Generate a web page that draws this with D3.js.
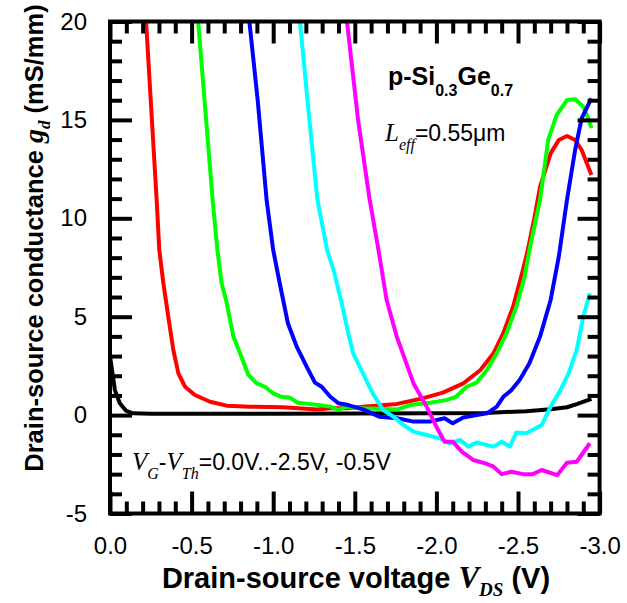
<!DOCTYPE html>
<html>
<head>
<meta charset="utf-8">
<script src="https://cdn.jsdelivr.net/npm/d3@7"></script>
<style>
  html, body { margin: 0; padding: 0; background: #fff; }
  svg { display: block; }
</style>
</head>
<body>
<svg id="chart" width="627" height="603"></svg>
<script>
// ---- data (V_DS in volts, g_d in mS/mm) ----
const seriesNames = ["0.0V", "-0.5V", "-1.0V", "-1.5V", "-2.0V", "-2.5V"];
const seriesColors = ["#000000", "#ff0000", "#00ff00", "#0000ff", "#00ffff", "#ff00ff"];

const black = [[0,3.0],[-0.03,1.27],[-0.06,0.6],[-0.10,0.21],[-0.14,0.09],[-0.25,0.07],[-0.5,0.07],[-1.0,0.07],[-1.5,0.08],[-2.0,0.09],[-2.3,0.11],[-2.55,0.2],[-2.7,0.3],[-2.8,0.4],[-2.86,0.56],[-2.95,0.82]];
const red = [[-0.221,20],[-0.286,10.93],[-0.302,8.39],[-0.327,6.7],[-0.357,5.01],[-0.388,3.31],[-0.419,2.12],[-0.46,1.44],[-0.52,1.02],[-0.613,0.68],[-0.715,0.48],[-0.858,0.43],[-1.06,0.40],[-1.27,0.29],[-1.35,0.35],[-1.45,0.35],[-1.55,0.43],[-1.76,0.57],[-1.92,0.86],[-2.04,1.14],[-2.165,1.61],[-2.27,2.29],[-2.35,3.14],[-2.41,4.16],[-2.47,5.51],[-2.53,7.37],[-2.56,8.39],[-2.6,10.0],[-2.635,11.6],[-2.70,13.3],[-2.75,13.98],[-2.80,14.18],[-2.85,13.98],[-2.89,13.47],[-2.95,12.2]];
const green = [[-0.54,20],[-0.629,10.93],[-0.658,8.39],[-0.684,6.7],[-0.711,5.85],[-0.756,3.99],[-0.797,3.14],[-0.848,2.04],[-0.899,1.61],[-0.95,1.44],[-1.0,1.10],[-1.05,0.93],[-1.10,0.90],[-1.15,0.63],[-1.215,0.57],[-1.276,0.51],[-1.35,0.43],[-1.40,0.26],[-1.45,0.43],[-1.55,0.35],[-1.76,0.29],[-1.84,0.51],[-1.96,0.63],[-2.06,0.76],[-2.12,0.93],[-2.185,1.44],[-2.246,1.65],[-2.31,2.29],[-2.37,3.14],[-2.43,4.16],[-2.49,5.51],[-2.54,7.02],[-2.57,8.39],[-2.635,10.93],[-2.685,13.98],[-2.737,15.25],[-2.80,16.01],[-2.85,16.05],[-2.90,15.67],[-2.93,15.08],[-2.95,14.58]];
const blue = [[-0.854,20],[-0.905,16],[-0.96,10.9],[-1.0,8.39],[-1.04,6.7],[-1.09,4.67],[-1.144,3.48],[-1.205,2.46],[-1.256,1.65],[-1.297,1.44],[-1.35,0.93],[-1.40,0.60],[-1.46,0.51],[-1.55,0.29],[-1.65,-0.08],[-1.76,-0.16],[-1.86,-0.33],[-1.96,-0.33],[-2.05,-0.16],[-2.10,-0.42],[-2.165,-0.12],[-2.246,0.0],[-2.31,0.09],[-2.37,0.43],[-2.41,0.93],[-2.46,1.27],[-2.51,1.78],[-2.57,2.63],[-2.635,3.99],[-2.70,5.85],[-2.75,8.05],[-2.80,10.93],[-2.85,13.47],[-2.89,15.08],[-2.95,16.1]];
const cyan = [[-1.164,20],[-1.21,16],[-1.27,11],[-1.33,8.39],[-1.37,7.37],[-1.42,5.68],[-1.46,4.16],[-1.49,3.14],[-1.55,2.12],[-1.61,1.10],[-1.674,0.26],[-1.736,-0.08],[-1.80,-0.51],[-1.86,-0.84],[-1.94,-1.01],[-2.02,-1.18],[-2.08,-1.43],[-2.145,-1.26],[-2.195,-1.6],[-2.246,-1.39],[-2.35,-1.6],[-2.40,-1.35],[-2.45,-1.6],[-2.49,-0.89],[-2.55,-0.92],[-2.645,-0.51],[-2.70,0.43],[-2.76,1.27],[-2.81,2.12],[-2.86,3.31],[-2.90,5.0],[-2.94,6.19]];
const magenta = [[-1.452,20],[-1.52,15],[-1.59,11],[-1.645,8.39],[-1.695,5.85],[-1.757,3.99],[-1.86,1.61],[-1.94,0.43],[-2.0,-0.59],[-2.05,-1.35],[-2.10,-1.35],[-2.155,-1.86],[-2.225,-2.28],[-2.30,-2.45],[-2.35,-2.62],[-2.40,-3.0],[-2.46,-2.88],[-2.53,-3.0],[-2.59,-3.0],[-2.645,-2.79],[-2.74,-3.05],[-2.80,-2.42],[-2.86,-2.37],[-2.94,-1.43]];

const xTicks = [0, -0.5, -1.0, -1.5, -2.0, -2.5, -3.0];
const xTickLabels = ["0.0", "-0.5", "-1.0", "-1.5", "-2.0", "-2.5", "-3.0"];
const yTicks = [-5, 0, 5, 10, 15, 20];
const yTickLabels = ["-5", "0", "5", "10", "15", "20"];

// ---- layout ----
const L = 110, R = 599.6, T = 21.5, B = 513.5;
const svg = d3.select("#chart");
const x = d3.scaleLinear().domain([0, -3]).range([L, R]);
const y = d3.scaleLinear().domain([20, -5]).range([T, B]);

const sans = "'Liberation Sans', Arial, sans-serif";
const serif = "'Liberation Serif', 'Times New Roman', serif";

// clip
svg.append("defs").append("clipPath").attr("id", "clip")
  .append("rect").attr("x", L).attr("y", T).attr("width", R - L).attr("height", B - T);

// curves
const allSeries = [black, red, green, blue, cyan, magenta];
const line = d3.line().x(d => x(d[0])).y(d => y(d[1]));
const g = svg.append("g").attr("clip-path", "url(#clip)");
allSeries.forEach((s, i) => {
  g.append("path").datum(s)
    .attr("fill", "none").attr("stroke", seriesColors[i])
    .attr("stroke-width", 4).attr("stroke-linejoin", "round")
    .attr("d", line);
});

// axes with inward ticks
const minorX = d3.range(0, 31).map(i => -i / 10).filter(v => !xTicks.some(t => Math.abs(t - v) < 1e-9));
const minorY = d3.range(-5, 21).filter(v => yTicks.indexOf(v) < 0);

function styleAxis(sel) {
  sel.select(".domain").remove();
  sel.selectAll(".tick line").attr("stroke", "#000").attr("stroke-width", 4);
  sel.selectAll(".tick text").attr("font-family", sans).attr("font-size", 24).attr("fill", "#000");
}

svg.append("g").attr("transform", `translate(0,${B})`)
  .call(d3.axisBottom(x).tickValues(xTicks).tickFormat((d, i) => xTickLabels[i]).tickSizeInner(-22).tickSizeOuter(0).tickPadding(23))
  .call(styleAxis);
svg.append("g").attr("transform", `translate(0,${B})`)
  .call(d3.axisBottom(x).tickValues(minorX).tickFormat("").tickSizeInner(-12).tickSizeOuter(0))
  .call(styleAxis);
svg.append("g").attr("transform", `translate(0,${T})`)
  .call(d3.axisTop(x).tickValues(xTicks).tickFormat("").tickSizeInner(-22).tickSizeOuter(0))
  .call(styleAxis);
svg.append("g").attr("transform", `translate(0,${T})`)
  .call(d3.axisTop(x).tickValues(minorX).tickFormat("").tickSizeInner(-12).tickSizeOuter(0))
  .call(styleAxis);
svg.append("g").attr("transform", `translate(${L},0)`)
  .call(d3.axisLeft(y).tickValues(yTicks).tickFormat((d, i) => yTickLabels[i]).tickSizeInner(-22).tickSizeOuter(0).tickPadding(23))
  .call(styleAxis);
svg.append("g").attr("transform", `translate(${L},0)`)
  .call(d3.axisLeft(y).tickValues(minorY).tickFormat("").tickSizeInner(-12).tickSizeOuter(0))
  .call(styleAxis);
svg.append("g").attr("transform", `translate(${R},0)`)
  .call(d3.axisRight(y).tickValues(yTicks).tickFormat("").tickSizeInner(-22).tickSizeOuter(0))
  .call(styleAxis);
svg.append("g").attr("transform", `translate(${R},0)`)
  .call(d3.axisRight(y).tickValues(minorY).tickFormat("").tickSizeInner(-12).tickSizeOuter(0))
  .call(styleAxis);

// frame
svg.append("rect").attr("x", L).attr("y", T).attr("width", R - L).attr("height", B - T)
  .attr("fill", "none").attr("stroke", "#000").attr("stroke-width", 4);

// x title
const xt = svg.append("text").attr("x", 356).attr("y", 588).attr("text-anchor", "middle")
  .attr("font-family", sans).attr("font-size", 29).attr("font-weight", "bold").attr("fill", "#000");
xt.append("tspan").text("Drain-source voltage ");
xt.append("tspan").attr("font-family", serif).attr("font-style", "italic").attr("font-size", 31).text("V");
xt.append("tspan").attr("font-family", serif).attr("font-style", "italic").attr("font-size", 19).attr("dy", 8).text("DS");
xt.append("tspan").attr("dy", -8).text(" (V)");

// y title
const yt = svg.append("text").attr("transform", "translate(43,238) rotate(-90)").attr("text-anchor", "middle")
  .attr("font-family", sans).attr("font-size", 25.5).attr("font-weight", "bold").attr("fill", "#000");
yt.append("tspan").text("Drain-source conductance ");
yt.append("tspan").attr("font-family", serif).attr("font-style", "italic").attr("font-size", 28).text("g");
yt.append("tspan").attr("font-family", serif).attr("font-style", "italic").attr("font-size", 17).attr("dy", 7).text("d");
yt.append("tspan").attr("dy", -7).text(" (mS/mm)");

// inset labels
const t1 = svg.append("text").attr("x", 388).attr("y", 85)
  .attr("font-family", sans).attr("font-size", 25).attr("font-weight", "bold").attr("fill", "#000");
t1.append("tspan").text("p-Si");
t1.append("tspan").attr("font-size", 16).attr("dy", 11).text("0.3");
t1.append("tspan").attr("dy", -11).text("Ge");
t1.append("tspan").attr("font-size", 16).attr("dy", 11).text("0.7");

const t2 = svg.append("text").attr("x", 385).attr("y", 141)
  .attr("font-family", sans).attr("font-size", 23).attr("fill", "#000");
t2.append("tspan").attr("font-family", serif).attr("font-style", "italic").attr("font-size", 25).text("L");
t2.append("tspan").attr("font-family", serif).attr("font-style", "italic").attr("font-size", 16).attr("dy", 9).text("eff");
t2.append("tspan").attr("dy", -9).text("=0.55\u03bcm");

const t3 = svg.append("text").attr("x", 132).attr("y", 470)
  .attr("font-family", sans).attr("font-size", 23).attr("fill", "#000");
t3.append("tspan").attr("font-family", serif).attr("font-style", "italic").attr("font-size", 25).text("V");
t3.append("tspan").attr("font-family", serif).attr("font-style", "italic").attr("font-size", 16).attr("dy", 9).text("G");
t3.append("tspan").attr("dy", -9).text("-");
t3.append("tspan").attr("font-family", serif).attr("font-style", "italic").attr("font-size", 25).text("V");
t3.append("tspan").attr("font-family", serif).attr("font-style", "italic").attr("font-size", 16).attr("dy", 9).text("Th");
t3.append("tspan").attr("dy", -9).text("=0.0V..-2.5V, -0.5V");
</script>
</body>
</html>
